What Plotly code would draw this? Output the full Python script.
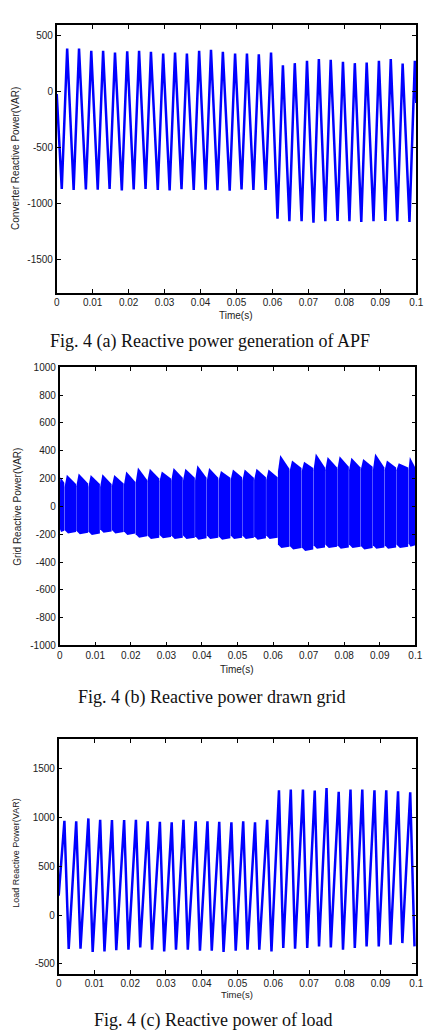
import plotly.graph_objects as go

# ---------------- data ----------------
x_tick_vals = [0, 0.01, 0.02, 0.03, 0.04, 0.05, 0.06, 0.07, 0.08, 0.09, 0.1]
x_tick_text = ["0", "0.01", "0.02", "0.03", "0.04", "0.05", "0.06", "0.07", "0.08", "0.09", "0.1"]

# (a) converter reactive power: troughs and peaks of each ripple cycle
a_trough_t = [0.0014, 0.0047, 0.0081, 0.0114, 0.0147, 0.0181, 0.0214, 0.0247, 0.0281, 0.0314,
              0.0347, 0.0381, 0.0414, 0.0447, 0.0481, 0.0514, 0.0547, 0.0581, 0.0614, 0.0647,
              0.0681, 0.0714, 0.0747, 0.0781, 0.0814, 0.0847, 0.0881, 0.0914, 0.0947, 0.0981]
a_trough_v = [-870, -880, -875, -878, -872, -885, -876, -870, -880, -885,
              -874, -880, -878, -882, -886, -876, -880, -880, -1138, -1159,
              -1160, -1174, -1160, -1158, -1160, -1166, -1160, -1158, -1160, -1166]
a_peak_t = [0.0029, 0.0062, 0.0096, 0.0129, 0.0162, 0.0196, 0.0229, 0.0262, 0.0296, 0.0329,
            0.0362, 0.0396, 0.0429, 0.0462, 0.0496, 0.0529, 0.0562, 0.0596, 0.0629, 0.0662,
            0.0696, 0.0729, 0.0762, 0.0796, 0.0829, 0.0862, 0.0896, 0.0929, 0.0962, 0.0996]
a_peak_v = [387, 387, 366, 366, 351, 363, 366, 357, 342, 351,
            342, 366, 375, 357, 342, 342, 336, 351, 238, 256,
            277, 292, 286, 268, 256, 262, 277, 292, 253, 277]
a_start = (0.0, -20)
a_end = (0.1, -100)

# (b) grid reactive power: one dense block per ripple cycle
b_edges = [0.0, 0.0013, 0.0046, 0.0080, 0.0113, 0.0146, 0.0180, 0.0213, 0.0246, 0.0280, 0.0313,
           0.0346, 0.0380, 0.0413, 0.0446, 0.0480, 0.0513, 0.0546, 0.0580, 0.0613, 0.0646,
           0.0680, 0.0713, 0.0746, 0.0780, 0.0813, 0.0846, 0.0880, 0.0913, 0.0946, 0.0980, 0.1]
b_top_peak = [210, 228, 237, 225, 230, 225, 250, 280, 270, 250, 275,
              270, 295, 275, 255, 265, 265, 270, 265, 370, 330,
              320, 380, 355, 360, 350, 340, 380, 330, 310, 355]
b_top_base = [170, 160, 165, 160, 160, 165, 175, 190, 200, 200, 205,
              205, 205, 205, 205, 210, 205, 210, 210, 270, 275,
              275, 280, 280, 285, 280, 285, 280, 280, 280, 280]
b_bot_low = [-185, -195, -200, -205, -190, -195, -205, -225, -235, -230, -235,
             -235, -240, -235, -240, -235, -235, -240, -235, -300, -310,
             -320, -305, -300, -305, -300, -310, -305, -305, -300, -290]

# (c) load reactive power: peaks and troughs of each ripple cycle
c_peak_t = [0.0016, 0.0049, 0.0083, 0.0116, 0.0149, 0.0183, 0.0216, 0.0249, 0.0283, 0.0316,
            0.0349, 0.0383, 0.0416, 0.0449, 0.0483, 0.0516, 0.0549, 0.0583, 0.0616, 0.0649,
            0.0683, 0.0716, 0.0749, 0.0783, 0.0816, 0.0849, 0.0883, 0.0916, 0.0949, 0.0983]
c_peak_v = [966, 960, 990, 977, 973, 973, 977, 960, 956, 950,
            977, 960, 960, 956, 950, 960, 950, 977, 1279, 1285,
            1285, 1275, 1302, 1262, 1285, 1285, 1279, 1279, 1268, 1258]
c_trough_t = [0.0028, 0.0061, 0.0095, 0.0128, 0.0161, 0.0195, 0.0228, 0.0261, 0.0295, 0.0328,
              0.0361, 0.0395, 0.0428, 0.0461, 0.0495, 0.0528, 0.0561, 0.0595, 0.0628, 0.0661,
              0.0695, 0.0728, 0.0761, 0.0795, 0.0828, 0.0861, 0.0895, 0.0928, 0.0961, 0.0995]
c_trough_v = [-348, -345, -378, -372, -361, -355, -331, -355, -372, -355,
              -355, -365, -365, -378, -365, -355, -355, -372, -338, -345,
              -338, -321, -331, -355, -338, -321, -321, -304, -287, -321]
c_start = (0.0, 200)

# ---------------- figure ----------------
W, H = 436, 1032
BLUE = "rgb(0,0,255)"


def px(x):
    return x / W


def py(y):
    return 1 - y / H


def interleave(t1, v1, t2, v2):
    pts = sorted(list(zip(t1, v1)) + list(zip(t2, v2)))
    return [p[0] for p in pts], [p[1] for p in pts]


fig = go.Figure()

# (a)
ta, va = interleave(a_trough_t, a_trough_v, a_peak_t, a_peak_v)
ta = [a_start[0]] + ta + [a_end[0]]
va = [a_start[1]] + va + [a_end[1]]
fig.add_trace(go.Scatter(x=ta, y=va, mode="lines", line=dict(color=BLUE, width=2.5),
                         xaxis="x", yaxis="y", showlegend=False, hoverinfo="skip"))

# (b) blocks
gap = 0.00007
for i in range(len(b_edges) - 1):
    s = b_edges[i] + (gap if i > 0 else 0)
    e = b_edges[i + 1]
    w = e - s
    xs = [s, s + 0.2 * w, e, e, s + 0.3 * w, s, s]
    ys = [b_top_base[i] - 20, b_top_peak[i], b_top_base[i],
          b_bot_low[i] + 10, b_bot_low[i], b_bot_low[i] + 25, b_top_base[i] - 20]
    fig.add_trace(go.Scatter(x=xs, y=ys, mode="lines", fill="toself", fillcolor=BLUE,
                             line=dict(width=0, color=BLUE), xaxis="x2", yaxis="y2",
                             showlegend=False, hoverinfo="skip"))

# (c)
tc, vc = interleave(c_peak_t, c_peak_v, c_trough_t, c_trough_v)
tc = [c_start[0]] + tc
vc = [c_start[1]] + vc
fig.add_trace(go.Scatter(x=tc, y=vc, mode="lines", line=dict(color=BLUE, width=2.5),
                         xaxis="x3", yaxis="y3", showlegend=False, hoverinfo="skip"))

TICKFONT = dict(family="Arial, Liberation Sans, sans-serif", size=10, color="#222")
common = dict(showline=True, linecolor="black", linewidth=1.6, mirror="ticks",
              ticks="inside", ticklen=4, tickwidth=1, tickcolor="black",
              showgrid=False, zeroline=False, tickfont=TICKFONT)


def xax(anchor, dom):
    return dict(common, anchor=anchor, domain=dom, range=[0, 0.1],
                tickmode="array", tickvals=x_tick_vals, ticktext=x_tick_text)


def yax(anchor, dom, rng, tv):
    return dict(common, anchor=anchor, domain=dom, range=rng,
                tickmode="array", tickvals=tv, ticktext=[str(v) for v in tv])


fig.update_layout(
    width=W, height=H, margin=dict(l=0, r=0, t=0, b=0),
    paper_bgcolor="white", plot_bgcolor="white",
    xaxis=xax("y", [px(55), px(423)]),
    yaxis=yax("x", [py(290), py(19)], [-1800, 600], [-1500, -1000, -500, 0, 500]),
    xaxis2=xax("y2", [px(58), px(422)]),
    yaxis2=yax("x2", [py(647), py(365.5)], [-1000, 1000],
               [-1000, -800, -600, -400, -200, 0, 200, 400, 600, 800, 1000]),
    xaxis3=xax("y3", [px(57), px(423)]),
    yaxis3=yax("x3", [py(979), py(742)], [-600, 1800], [-500, 0, 500, 1000, 1500]),
)

LBL = dict(family="Arial, Liberation Sans, sans-serif", size=10, color="#222")
SERIF = dict(family="Times New Roman, Liberation Serif, serif", size=18, color="#111")
ann = [
    dict(text="Converter Reactive Power(VAR)", x=px(12), y=py(154), textangle=-90, font=LBL),
    dict(text="Time(s)", x=px(238), y=py(313), font=LBL),
    dict(text="Fig. 4 (a) Reactive power generation of APF", x=px(212), y=py(339), font=SERIF),
    dict(text="Grid Reactive Power(VAR)", x=px(14), y=py(507), textangle=-90, font=LBL),
    dict(text="Time(s)", x=px(240), y=py(671), font=LBL),
    dict(text="Fig. 4 (b) Reactive power drawn grid", x=px(213), y=py(700), font=SERIF),
    dict(text="Load Reactive Power(VAR)", x=px(13), y=py(857), textangle=-90,
         font=dict(LBL, size=9)),
    dict(text="Time(s)", x=px(240), y=py(1000), font=dict(LBL, size=9.5)),
    dict(text="Fig. 4 (c) Reactive power of load", x=px(215), y=py(1026), font=SERIF),
]
fig.update_layout(annotations=[dict(a, xref="paper", yref="paper", showarrow=False,
                                    xanchor="center", yanchor="middle", borderpad=0)
                               for a in ann])

fig.write_html("out.html", config={"displayModeBar": False})
